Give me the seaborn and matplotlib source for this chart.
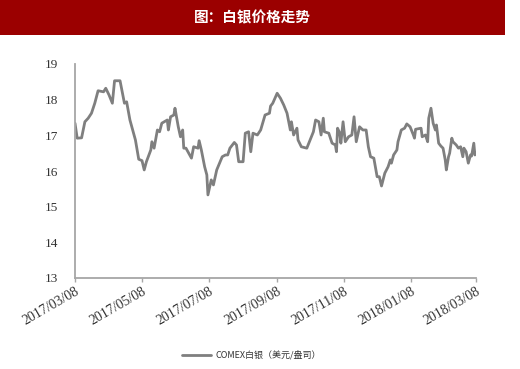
import matplotlib
matplotlib.use("Agg")
import matplotlib.pyplot as plt
from matplotlib.patches import Rectangle
import seaborn as sns
import pandas as pd

# Data (day offsets from 2017/03/08, price in USD/oz)
start_date = "2017-03-08"
day_offsets = [0, 2, 6, 9, 12, 15, 18, 21, 26, 28, 31, 34, 36, 41, 45, 47, 50, 55, 58, 61,
               63, 65, 69, 70, 72, 75, 77, 79, 84, 85, 87, 90, 91, 94, 96, 98, 99, 101, 106, 108,
               112, 113, 115, 118, 120, 121, 124, 126, 129, 134, 137, 139, 141, 145, 147, 149, 153, 155, 158, 160,
               162, 166, 169, 173, 177, 178, 180, 184, 187, 190, 193, 196, 197, 199, 202, 203, 206, 211, 214, 217,
               219, 222, 224, 226, 227, 231, 234, 237, 238, 239, 241, 242, 244, 246, 249, 252, 254, 256, 259, 262,
               265, 267, 269, 272, 275, 277, 279, 282, 285, 287, 288, 290, 293, 294, 297, 300, 302, 305, 308, 309,
               310, 315, 316, 319, 321, 322, 324, 326, 328, 329, 331, 333, 335, 337, 338, 340, 341, 343, 344, 347,
               349, 351, 353, 354, 356, 358, 360, 361, 363, 364, 365]
prices = [17.34, 16.92, 16.93, 17.38, 17.48, 17.62, 17.90, 18.25, 18.22, 18.32, 18.13, 17.90, 18.53, 18.53, 17.90, 17.94, 17.43, 16.87, 16.33, 16.29,
          16.03, 16.26, 16.59, 16.82, 16.64, 17.15, 17.10, 17.34, 17.43, 17.15, 17.52, 17.57, 17.76, 17.24, 16.96, 17.15, 16.64, 16.64, 16.36, 16.68,
          16.64, 16.85, 16.59, 16.12, 15.89, 15.33, 15.75, 15.61, 16.03, 16.40, 16.45, 16.45, 16.64, 16.80, 16.73, 16.26, 16.26, 17.06, 17.10, 16.54,
          17.06, 17.01, 17.15, 17.57, 17.62, 17.82, 17.90, 18.18, 18.04, 17.85, 17.62, 17.15, 17.38, 17.01, 17.20, 16.87, 16.68, 16.64, 16.87, 17.10,
          17.43, 17.38, 17.01, 17.48, 17.10, 17.06, 16.78, 16.73, 16.54, 17.20, 17.06, 16.78, 17.38, 16.82, 16.96, 17.01, 17.52, 16.82, 17.24, 17.15,
          17.15, 16.68, 16.40, 16.36, 15.84, 15.84, 15.58, 15.94, 16.12, 16.31, 16.22, 16.45, 16.59, 16.82, 17.15, 17.20, 17.32, 17.24, 17.01, 16.92,
          17.17, 17.20, 16.96, 17.01, 16.82, 17.48, 17.76, 17.34, 17.15, 17.29, 16.78, 16.70, 16.64, 16.31, 16.03, 16.40, 16.50, 16.92, 16.82, 16.73,
          16.64, 16.68, 16.40, 16.64, 16.54, 16.22, 16.45, 16.42, 16.78, 16.45, 16.50]
tick_dates = ["2017-03-08", "2017-05-08", "2017-07-08", "2017-09-08", "2017-11-08", "2018-01-08", "2018-03-08"]
tick_labels = ["2017/03/08", "2017/05/08", "2017/07/08", "2017/09/08", "2017/11/08", "2018/01/08", "2018/03/08"]
y_ticks = [13, 14, 15, 16, 17, 18, 19]
title = "图：白银价格走势"
series_name = "COMEX白银（美元/盎司）"

df = pd.DataFrame({
    "date": pd.Timestamp(start_date) + pd.to_timedelta(day_offsets, unit="D"),
    "price": prices,
    "series": series_name,
})

sns.set_theme(style="white")
plt.rcParams["font.family"] = ["Liberation Serif", "Noto Sans CJK SC", "DejaVu Sans"]

fig = plt.figure(figsize=(5.2, 3.69), dpi=100)
fig.patch.set_facecolor("white")

# Title banner
fig.patches.append(Rectangle((0, 1 - 35 / 369), 505 / 520, 35 / 369, transform=fig.transFigure,
                             facecolor="#9B0000", edgecolor="none", zorder=0))
fig.text(252 / 520, 1 - 17.5 / 369, title, color="white", fontsize=10.5, fontweight="bold",
         ha="center", va="center", family=["Noto Sans CJK SC", "DejaVu Sans"])

ax = fig.add_axes([75 / 520, 1 - 278 / 369, (476 - 75) / 520, (278 - 64) / 369])
sns.lineplot(data=df, x="date", y="price", hue="series", palette=["#7F7F7F"], linewidth=2.0, ax=ax)

ax.set_ylim(13, 19)
ax.set_yticks(y_ticks)
ax.set_yticklabels([str(v) for v in y_ticks], fontsize=9.5, color="#333333")
ax.set_xlim(pd.Timestamp(tick_dates[0]), pd.Timestamp(tick_dates[-1]))
ax.set_xticks(pd.to_datetime(tick_dates))
ax.set_xticklabels(tick_labels, rotation=30, ha="right", rotation_mode="anchor", fontsize=10, color="#333333")
ax.set_xlabel("")
ax.set_ylabel("")

for s in ["top", "right"]:
    ax.spines[s].set_visible(False)
for s in ["left", "bottom"]:
    ax.spines[s].set_color("#A6A6A6")
    ax.spines[s].set_linewidth(1.3)
ax.tick_params(axis="x", bottom=True, length=3, width=1, color="#A6A6A6", pad=2)
ax.tick_params(axis="y", left=False, pad=6)

leg = ax.legend(loc="center", bbox_to_anchor=(0.44, -0.36), frameon=False,
                handlelength=3.3, handletextpad=0.5,
                prop={"family": ["Noto Sans CJK SC", "DejaVu Sans"], "size": 6.5})
for t in leg.get_texts():
    t.set_color("#333333")

fig.savefig("out.png", dpi=100, facecolor="white")
